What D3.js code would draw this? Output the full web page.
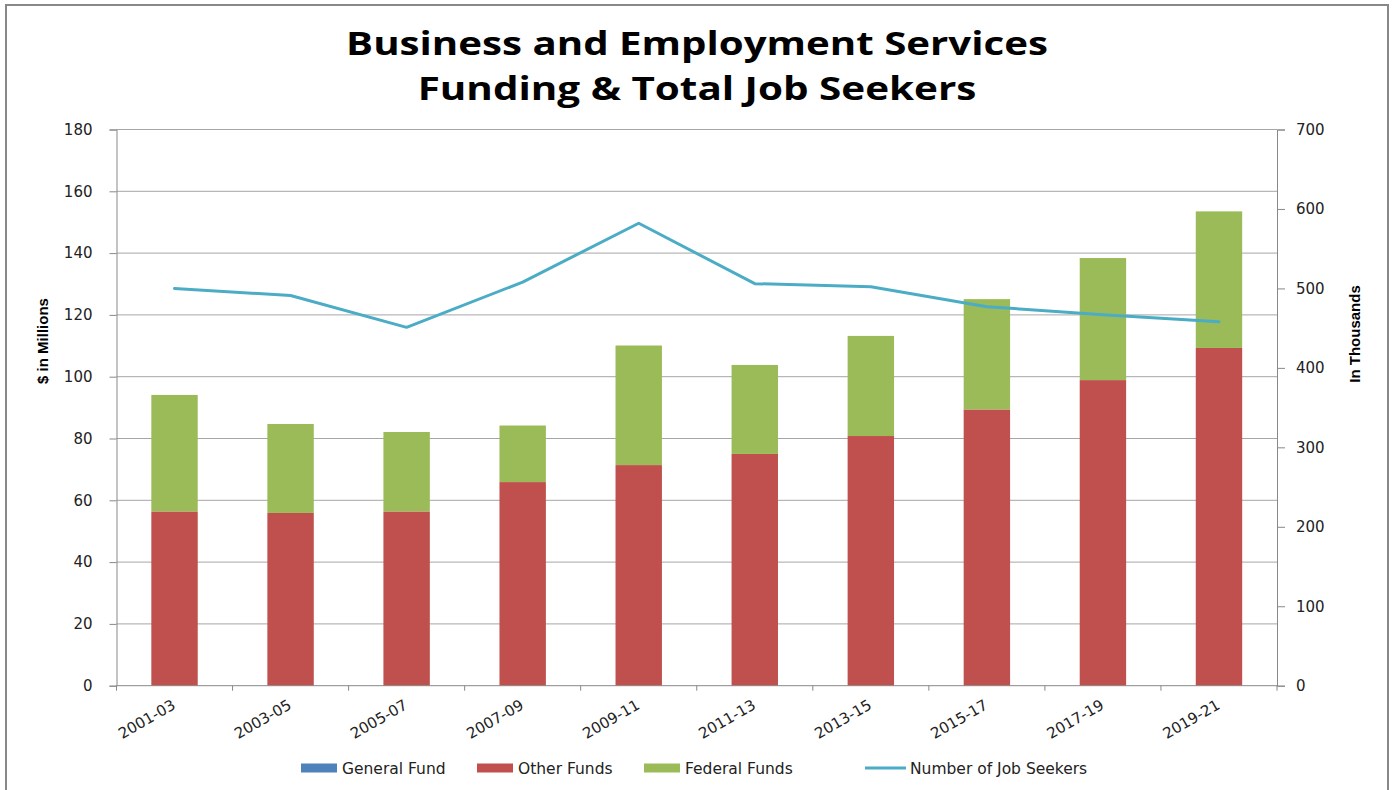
<!DOCTYPE html>
<html>
<head>
<meta charset="utf-8">
<script src="https://cdn.jsdelivr.net/npm/d3@7"></script>
<style>
  html, body { margin: 0; padding: 0; background: #fff; }
  svg { display: block; }
</style>
</head>
<body>
<svg id="chart" width="1393" height="790"></svg>
<script>
// Biennium labels
const categories = ["2001-03", "2003-05", "2005-07", "2007-09", "2009-11",
                    "2011-13", "2013-15", "2015-17", "2017-19", "2019-21"];
// Funding, $ in millions
const generalFund = [0, 0, 0, 0, 0, 0, 0, 0, 0, 0];
const otherFunds = [56.4, 55.9, 56.4, 65.9, 71.4, 75.0, 80.8, 89.4, 98.9, 109.3];
const federalFunds = [37.7, 28.8, 25.7, 18.3, 38.7, 28.8, 32.4, 35.7, 39.5, 44.2];
// Total job seekers, in thousands
const jobSeekers = [500, 491, 451, 508, 582, 506, 502, 477, 467, 458];

const leftTicks = [0, 20, 40, 60, 80, 100, 120, 140, 160, 180];
const rightTicks = [0, 100, 200, 300, 400, 500, 600, 700];

const seriesNames = ["General Fund", "Other Funds", "Federal Funds"];
const seriesColors = ["#4F81BD", "#C0504D", "#9BBB59"];
const lineColor = "#4BACC6";

const svg = d3.select("#chart");
const plot = { left: 116.5, right: 1277, top: 129.5, bottom: 685.7 };
const tickFont = "'DejaVu Sans', Verdana, sans-serif";
const tickSize = 15;

// outer chart frame
svg.append("rect")
  .attr("x", 6).attr("y", 5).attr("width", 1382).attr("height", 800)
  .attr("fill", "#fff").attr("stroke", "#888").attr("stroke-width", 2);

const x = d3.scaleBand().domain(categories)
  .range([plot.left, plot.right]).paddingInner(0.6).paddingOuter(0.3);
const xBand = d3.scaleBand().domain(categories).range([plot.left, plot.right]);
const yL = d3.scaleLinear().domain([0, 180]).range([plot.bottom, plot.top]);
const yR = d3.scaleLinear().domain([0, 700]).range([plot.bottom, plot.top]);

// horizontal gridlines
svg.append("g").selectAll("line").data(leftTicks.filter(d => d > 0)).join("line")
  .attr("x1", plot.left).attr("x2", plot.right)
  .attr("y1", d => yL(d)).attr("y2", d => yL(d))
  .attr("stroke", "#a6a6a6").attr("stroke-width", 1);

// stacked bars
const rows = categories.map((c, i) => ({
  cat: c, "General Fund": generalFund[i], "Other Funds": otherFunds[i], "Federal Funds": federalFunds[i]
}));
const stack = d3.stack().keys(seriesNames)(rows);
svg.append("g").selectAll("g").data(stack).join("g")
  .attr("fill", (d, i) => seriesColors[i])
  .selectAll("rect").data(d => d).join("rect")
  .attr("x", d => x(d.data.cat))
  .attr("width", x.bandwidth())
  .attr("y", d => yL(d[1]))
  .attr("height", d => yL(d[0]) - yL(d[1]));

// job seekers line
const line = d3.line()
  .x((d, i) => xBand(categories[i]) + xBand.bandwidth() / 2)
  .y(d => yR(d));
svg.append("path").datum(jobSeekers)
  .attr("d", line).attr("fill", "none")
  .attr("stroke", lineColor).attr("stroke-width", 3)
  .attr("stroke-linejoin", "round").attr("stroke-linecap", "round");

// left axis
const axL = svg.append("g").attr("transform", `translate(${plot.left},0)`)
  .call(d3.axisLeft(yL).tickValues(leftTicks).tickSize(7).tickPadding(17));
// right axis
const axR = svg.append("g").attr("transform", `translate(${plot.right},0)`)
  .call(d3.axisRight(yR).tickValues(rightTicks).tickSize(8).tickPadding(11));
// bottom axis with ticks between categories
const axB = svg.append("g").attr("transform", `translate(0,${plot.bottom})`)
  .call(d3.axisBottom(xBand).tickSize(0).tickFormat(""));
axB.selectAll(".tick").remove();
axB.append("g").selectAll("line")
  .data(categories.map(c => xBand(c)).concat([plot.right]))
  .join("line")
  .attr("x1", d => d).attr("x2", d => d).attr("y1", 0).attr("y2", 5)
  .attr("stroke", "#888");

[axL, axR, axB].forEach(a => {
  a.select(".domain").attr("stroke", "#888");
  a.selectAll(".tick line").attr("stroke", "#888");
  a.selectAll("text").attr("font-family", tickFont).attr("font-size", tickSize).attr("fill", "#222");
});
axB.select(".domain").attr("d", `M${plot.left},0H${plot.right}`);

// category labels, slanted
svg.append("g").selectAll("text").data(categories).join("text")
  .attr("transform", d => `translate(${xBand(d) + xBand.bandwidth() / 2 + 2},708) rotate(-30)`)
  .attr("text-anchor", "end")
  .attr("font-family", tickFont).attr("font-size", tickSize).attr("fill", "#222")
  .text(d => d);

// title: two centred lines, widened to the chart's title width
const titleFont = "'Open Sans', 'Noto Sans', sans-serif";
function titleLine(txt, baseline, targetWidth) {
  const g = svg.append("g");
  const t = g.append("text").attr("x", 0).attr("y", 0)
    .attr("text-anchor", "middle").attr("font-family", titleFont)
    .attr("font-weight", 700).attr("font-size", 33).attr("fill", "#000")
    .text(txt);
  const k = targetWidth / t.node().getComputedTextLength();
  g.attr("transform", `translate(697,${baseline}) scale(${k},1)`);
}
titleLine("Business and Employment Services", 55, 702);
titleLine("Funding & Total Job Seekers", 100, 559);

// axis titles
const axisTitleFont = "'Liberation Sans Narrow', 'Liberation Sans', Arial, sans-serif";
svg.append("text")
  .attr("transform", "translate(48,341) rotate(-90)")
  .attr("text-anchor", "middle").attr("font-family", axisTitleFont)
  .attr("font-weight", 700).attr("font-size", 15).attr("fill", "#000")
  .text("$ in Millions");
svg.append("text")
  .attr("transform", "translate(1360,334) rotate(-90)")
  .attr("text-anchor", "middle").attr("font-family", axisTitleFont)
  .attr("font-weight", 700).attr("font-size", 15).attr("fill", "#000")
  .text("In Thousands");

// legend
const legend = svg.append("g");
const ly = 768;
const legendStarts = [301, 477, 644, 865];
const legendItems = seriesNames.map((n, i) => ({ name: n, color: seriesColors[i], type: "rect" }))
  .concat([{ name: "Number of Job Seekers", color: lineColor, type: "line" }]);
legendItems.forEach((item, i) => {
  let lx = legendStarts[i];
  if (item.type === "rect") {
    legend.append("rect").attr("x", lx).attr("y", ly - 4.5).attr("width", 36).attr("height", 9)
      .attr("fill", item.color);
    lx += 41;
  } else {
    legend.append("line").attr("x1", lx).attr("x2", lx + 41).attr("y1", ly).attr("y2", ly)
      .attr("stroke", item.color).attr("stroke-width", 3);
    lx += 45;
  }
  legend.append("text").attr("x", lx).attr("y", ly + 5.5)
    .attr("font-family", tickFont).attr("font-size", 15.5).attr("fill", "#222")
    .text(item.name);
});
</script>
</body>
</html>
